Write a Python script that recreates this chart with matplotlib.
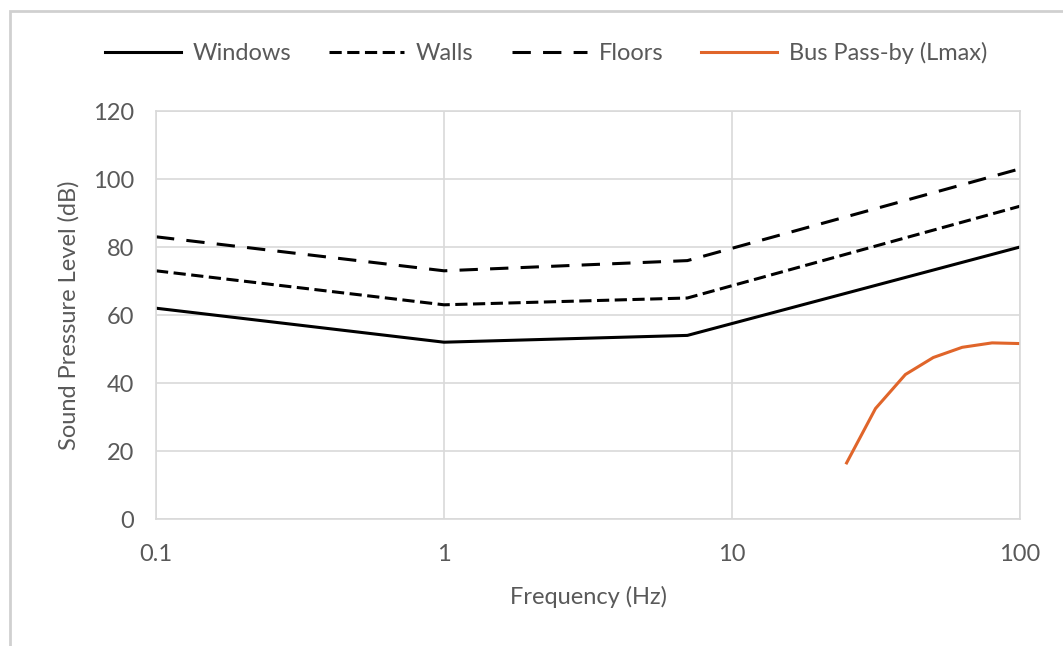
import matplotlib.pyplot as plt
from matplotlib.patches import Rectangle

freq_bldg = [0.1, 1, 7, 100]
windows = [62, 52, 54, 80]
walls = [73, 63, 65, 92]
floors = [83, 73, 76, 103]

freq_bus = [25, 31.5, 40, 50, 63, 80, 100]
bus = [16.5, 32.5, 42.5, 47.5, 50.5, 51.8, 51.6]

xticks = [0.1, 1, 10, 100]
xticklabels = ['0.1', '1', '10', '100']
yticks = [0, 20, 40, 60, 80, 100, 120]

txt = '#595959'
grid = '#D9D9D9'
fs = 17
plt.rcParams['font.family'] = ['Lato', 'DejaVu Sans']

fig = plt.figure(figsize=(10.63, 6.46), dpi=100)
ax = fig.add_axes([156 / 1063, 1 - 519 / 646, (1020 - 156) / 1063, (519 - 111) / 646])

ax.plot(freq_bldg, windows, color='black', lw=2.2, label='Windows')
ax.plot(freq_bldg, walls, color='black', lw=2.2, dashes=(4, 1.8), label='Walls')
ax.plot(freq_bldg, floors, color='black', lw=2.2, dashes=(6, 4), label='Floors')
ax.plot(freq_bus, bus, color='#E0652A', lw=2.2, label='Bus Pass-by (Lmax)')

ax.set_xscale('log')
ax.set_xlim(0.1, 100)
ax.set_ylim(0, 120)
ax.set_xticks(xticks)
ax.set_xticklabels(xticklabels)
ax.minorticks_off()
ax.set_yticks(yticks)
ax.grid(True, color=grid, lw=1.2)
ax.tick_params(length=0, labelsize=fs, labelcolor=txt)
ax.tick_params(axis='x', pad=18)
ax.tick_params(axis='y', pad=16)
for s in ax.spines.values():
    s.set_color(grid)
    s.set_linewidth(1.2)

ax.set_xlabel('Frequency (Hz)', fontsize=fs, color=txt, labelpad=15)
ax.set_ylabel('Sound Pressure Level (dB)', fontsize=fs, color=txt, labelpad=9)

fig.legend(loc='center', bbox_to_anchor=(546 / 1063, 1 - 53 / 646), ncol=4,
           frameon=False, fontsize=fs, labelcolor=txt, handlelength=3.2,
           columnspacing=1.6, handletextpad=0.5)

fig.patches.append(Rectangle((10 / 1063, -0.1), 1.2, 1 - 11 / 646 + 0.1,
                             transform=fig.transFigure, fill=False,
                             edgecolor='#D0D0D0', lw=2))

fig.savefig('out.png', dpi=100)
